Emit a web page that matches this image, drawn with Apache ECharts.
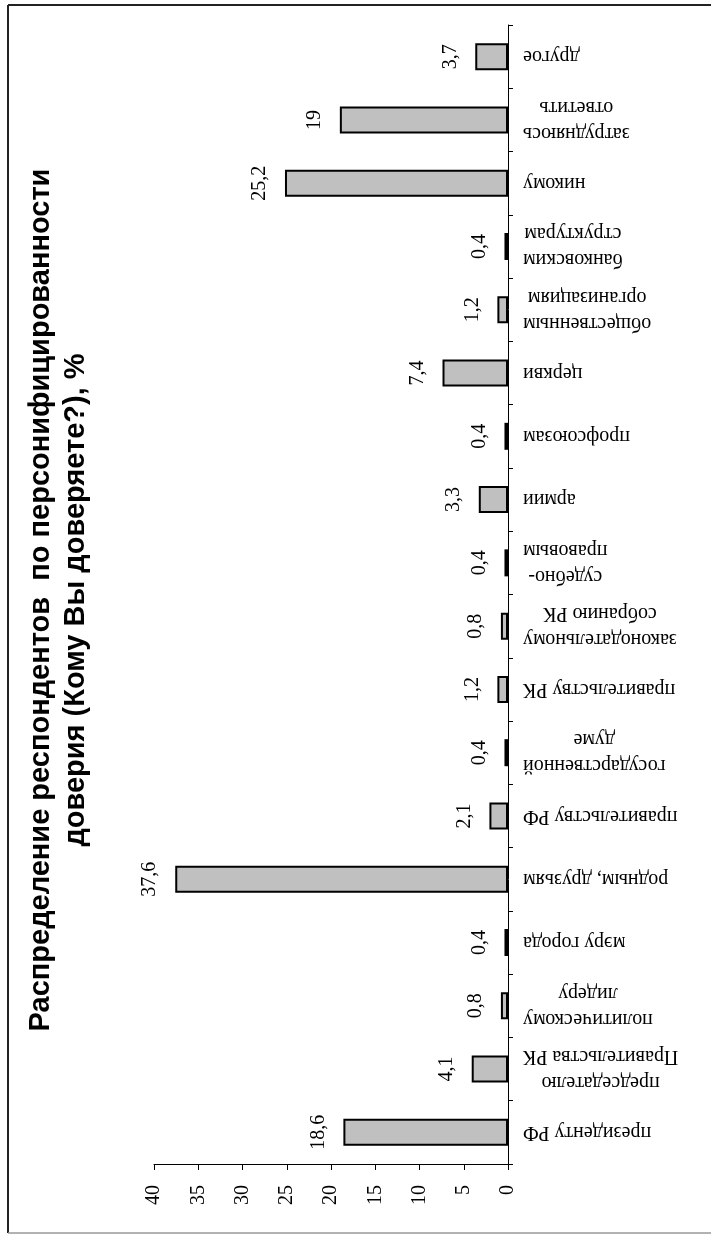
<!DOCTYPE html>
<html>
<head>
<meta charset="utf-8">
<title>Распределение респондентов по персонифицированности доверия</title>
<script src="https://cdn.jsdelivr.net/npm/echarts@6/dist/echarts.min.js"></script>
<style>
    html, body { margin: 0; padding: 0; background: #fff; }
    #chart { width: 711px; height: 1234px; }
</style>
</head>
<body>
<div id="chart"></div>
<script>
// категории снизу вверх (как на исходной картинке)
var categories = [
    'президенту РФ',
    'председателю\nПравительства РК',
    'политическому\nлидеру',
    'мэру города',
    'родным, друзьям',
    'правительству РФ',
    'государственной\nдуме',
    'правительству РК',
    'законодательному\nсобранию РК',
    'судебно-\nправовым',
    'армии',
    'профсоюзам',
    'церкви',
    'общественным\nорганизациям',
    'банковским\nструктурам',
    'никому',
    'затрудняюсь\nответить',
    'другое'
];
var values = [18.6, 4.1, 0.8, 0.4, 37.6, 2.1, 0.4, 1.2, 0.8, 0.4, 3.3, 0.4, 7.4, 1.2, 0.4, 25.2, 19, 3.7];
var titleLines = ['Распределение респондентов  по персонифицированности', 'доверия (Кому Вы доверяете?), %'];
var valueMin = 0, valueMax = 40, valueStep = 5;

(function () {
    "use strict";

    var SERIF = '"Liberation Serif", "Times New Roman", serif',
        SANS = '"Liberation Sans", Arial, sans-serif',
        myChart = echarts.init(document.getElementById('chart')),
        option,

        // 18,6 вместо 18.6
        fmt = function (v) {
            return String(v).replace('.', ',');
        },

        // каждую строку подписи центрируем отдельно
        catFmt = function (name) {
            var lines = name.split('\n'), i, out = [];
            for (i = 0; i < lines.length; i++) {
                out.push('{c|' + lines[i] + '}');
            }
            return out.join('\n');
        };

    option = {
        backgroundColor: '#fff',
        animation: false,
        grid: {
            left: 154,
            right: 203,
            top: 25,
            bottom: 70,
            containLabel: false
        },
        xAxis: {
            type: 'value',
            position: 'bottom',
            inverse: true,
            min: valueMin,
            max: valueMax,
            interval: valueStep,
            splitLine: {show: false},
            axisLine: {show: true, lineStyle: {color: '#000', width: 1}},
            axisTick: {show: true, length: 6, lineStyle: {color: '#000'}},
            axisLabel: {
                rotate: 90,
                margin: 21,
                color: '#000',
                fontFamily: SERIF,
                fontSize: 20
            }
        },
        yAxis: {
            type: 'category',
            position: 'right',
            data: categories,
            axisLine: {show: true, lineStyle: {color: '#000', width: 1}},
            axisTick: {show: true, length: 5, interval: 0, lineStyle: {color: '#000'}},
            axisLabel: {
                interval: 0,
                rotate: 180,
                margin: 15,
                formatter: catFmt,
                rich: {
                    c: {
                        align: 'center',
                        fontFamily: SERIF,
                        fontSize: 20,
                        lineHeight: 26,
                        color: '#000'
                    }
                }
            }
        },
        series: [{
            type: 'bar',
            data: values,
            barWidth: 27,
            itemStyle: {
                color: '#c0c0c0',
                borderColor: '#000',
                borderWidth: 2
            },
            label: {
                show: true,
                position: 'left',
                distance: 25,
                rotate: 90,
                align: 'center',
                verticalAlign: 'middle',
                color: '#000',
                fontFamily: SERIF,
                fontSize: 20,
                formatter: function (p) {
                    return fmt(p.value);
                }
            }
        }],
        graphic: [
            // рамка
            {type: 'line', shape: {x1: 8, y1: 5, x2: 711, y2: 5}, style: {stroke: '#222', lineWidth: 2}},
            {type: 'line', shape: {x1: 8, y1: 5, x2: 8, y2: 1233}, style: {stroke: '#222', lineWidth: 2}},
            {type: 'line', shape: {x1: 8, y1: 1233, x2: 711, y2: 1233}, style: {stroke: '#999', lineWidth: 1.5}},
            // заголовок, повернутый на 90°
            {
                type: 'text',
                x: 58,
                y: 600,
                rotation: Math.PI / 2,
                style: {
                    text: titleLines.join('\n'),
                    align: 'center',
                    verticalAlign: 'middle',
                    fill: '#000',
                    fontFamily: SANS,
                    fontWeight: 'bold',
                    fontSize: 29,
                    lineHeight: 35
                }
            }
        ]
    };

    myChart.setOption(option);
})();
</script>
</body>
</html>
